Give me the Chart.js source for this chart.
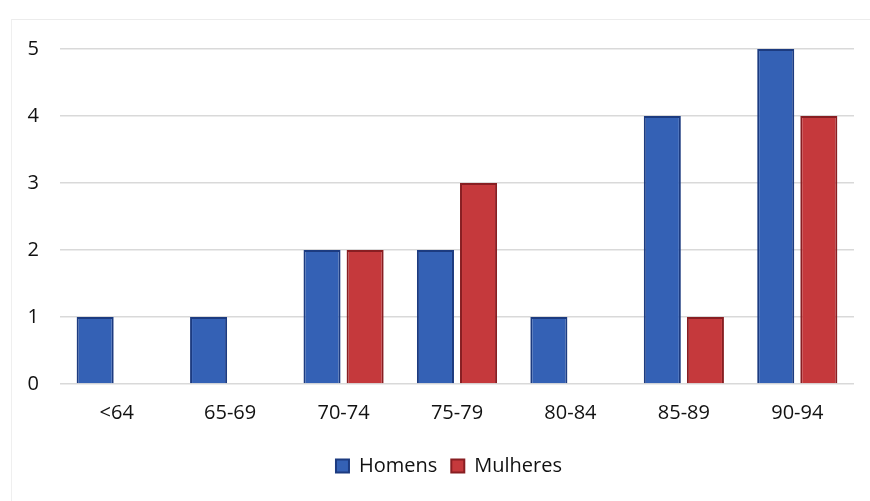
<!DOCTYPE html>
<html>
<head>
<meta charset="utf-8">
<script src="https://cdn.jsdelivr.net/npm/chart.js@4/dist/chart.umd.min.js"></script>
<style>
  html, body { margin: 0; padding: 0; background: #fff; }
  #wrap { position: relative; width: 870px; height: 501px; }
  #frame { position: absolute; left: 11px; top: 19px; right: 0; bottom: 0;
           border-top: 1px solid #ececec; border-left: 1px solid #efefef; }
  canvas { position: absolute; left: 0; top: 0; }
</style>
</head>
<body>
<div id="wrap">
  <div id="frame"></div>
  <canvas id="chart" width="870" height="501"></canvas>
</div>
<script>
  // faixas etárias
  const categories = ['<64', '65-69', '70-74', '75-79', '80-84', '85-89', '90-94'];
  const homens = [1, 1, 2, 2, 1, 4, 5];
  const mulheres = [0, 0, 2, 3, 0, 1, 4];
  const yTicks = [0, 1, 2, 3, 4, 5];

  const FONT = "'Open Sans', 'Noto Sans', sans-serif";
  const TXT = '#111';

  // a legenda do original fica um pouco à direita do centro
  const legendShift = {
    id: 'legendShift',
    afterLayout(chart) {
      chart.legend.left += 22;
      chart.legend.right += 22;
    }
  };

  const ctx = document.getElementById('chart').getContext('2d');
  new Chart(ctx, {
    type: 'bar',
    data: {
      labels: categories,
      datasets: [{
        label: 'Homens',
        data: homens,
        backgroundColor: '#3461b5',
        borderColor: '#1c3b80',
        borderWidth: 2,
        categoryPercentage: 0.76,
        barPercentage: 0.86
      }, {
        label: 'Mulheres',
        data: mulheres,
        backgroundColor: '#c5393c',
        borderColor: '#881e22',
        borderWidth: 2,
        categoryPercentage: 0.76,
        barPercentage: 0.86
      }]
    },
    options: {
      responsive: false,
      animation: false,
      layout: { padding: { top: 49, right: 16, bottom: 15, left: 0 } },
      plugins: {
        tooltip: { enabled: false },
        legend: {
          position: 'bottom',
          labels: {
            color: TXT,
            font: { family: FONT, size: 20 },
            boxWidth: 13,
            boxHeight: 13,
            padding: 14
          }
        }
      },
      scales: {
        x: {
          grid: { display: false, drawTicks: false },
          border: { display: false },
          ticks: { color: TXT, font: { family: FONT, size: 20 }, padding: 17, maxRotation: 0 }
        },
        y: {
          min: 0,
          max: 5,
          afterFit: (s) => { s.width = 60; },
          afterBuildTicks: (s) => { s.ticks = yTicks.map(v => ({ value: v })); },
          grid: { color: '#d9d9d9', lineWidth: 1.5, drawTicks: false },
          border: { display: false },
          ticks: { color: TXT, font: { family: FONT, size: 20 }, padding: 21 }
        }
      }
    },
    plugins: [legendShift]
  });
</script>
</body>
</html>
